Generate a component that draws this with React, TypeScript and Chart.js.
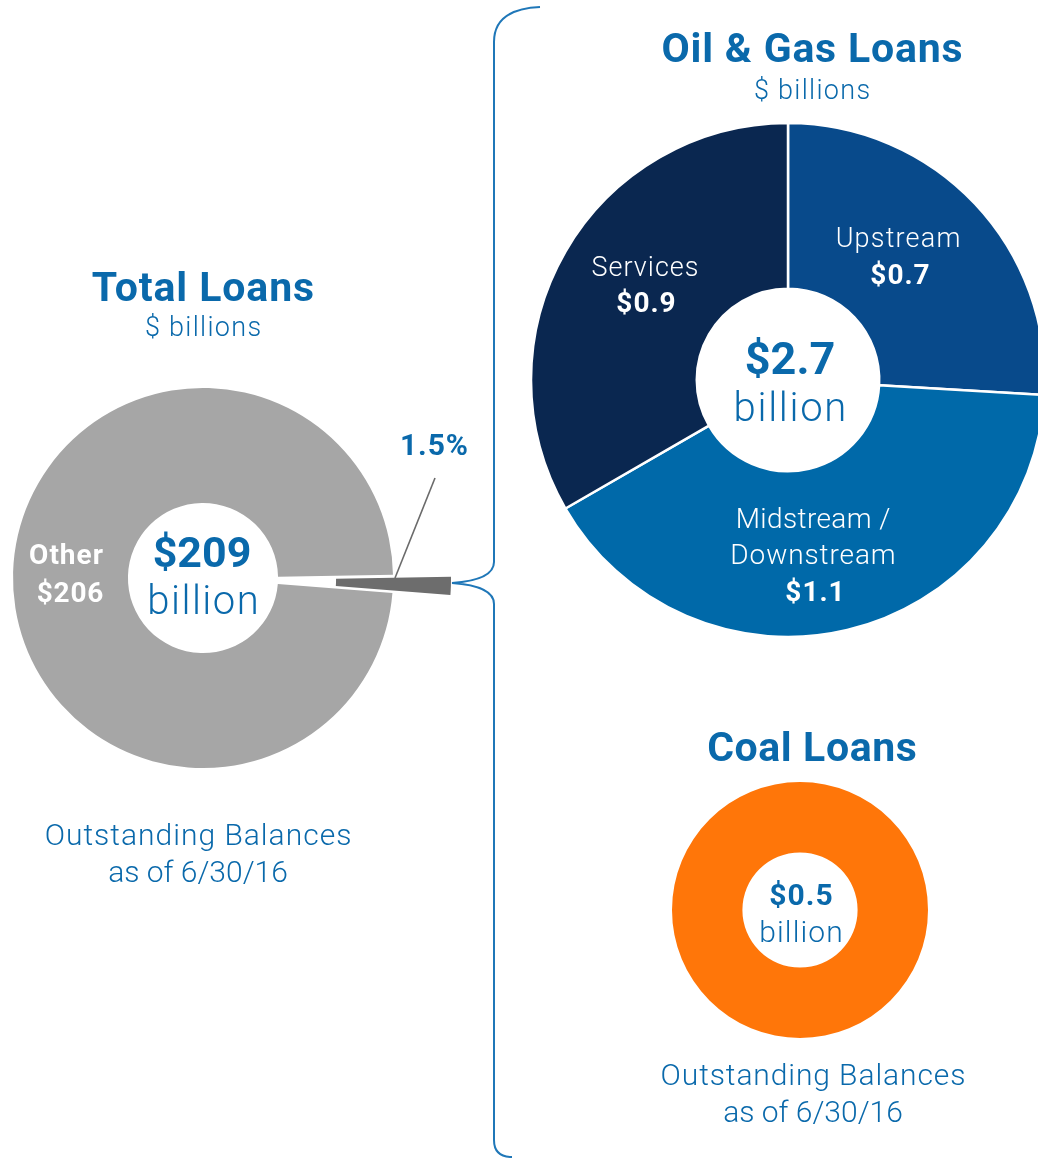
import React, { useEffect, useRef } from "react";
import { Chart, registerables } from "chart.js";

Chart.register(...registerables);

// ---------- Data ----------
const totalLabels = ["Oil & Gas + Coal", "Other"];
const totalValues = [3.2, 206];
const totalColors = ["rgba(0,0,0,0)", "#a6a6a6"];
const sliceColors = ["#6d6d6d", "rgba(0,0,0,0)"];

const oilLabels = ["Upstream", "Midstream / Downstream", "Services"];
const oilValues = [0.7, 1.1, 0.9];
const oilColors = ["#084a8b", "#0069a9", "#0a2750"];

const coalLabels = ["Coal"];
const coalValues = [0.5];
const coalColors = ["#ff7609"];

// ---------- Layout ----------
const BLUE = "#0a69ab";
const FONT = 'Roboto, "DejaVu Sans", sans-serif';

const TOTAL_C = { x: 203, y: 578 };
const TOTAL_R = 190;
const TOTAL_ROT = 89; // degrees (energy slice starts just above 3 o'clock)
const EXPLODE = 58;

const OIL_C = { x: 788, y: 380 };
const OIL_R = 257;

const COAL_C = { x: 800, y: 910 };
const COAL_R = 128;

const sum = (a: number[]) => a.reduce((s, v) => s + v, 0);

function Donut(props: {
  cx: number;
  cy: number;
  size: number;
  labels: string[];
  values: number[];
  colors: string[];
  radius: number;
  cutout: string;
  rotation?: number;
  borderWidth?: number;
}) {
  const ref = useRef<HTMLCanvasElement | null>(null);
  useEffect(() => {
    if (!ref.current) return;
    const chart = new Chart(ref.current, {
      type: "doughnut",
      data: {
        labels: props.labels,
        datasets: [
          {
            data: props.values,
            backgroundColor: props.colors,
            borderColor: "#ffffff",
            borderWidth: props.borderWidth ?? 0,
          },
        ],
      },
      options: {
        responsive: false,
        animation: false,
        events: [],
        radius: props.radius,
        cutout: props.cutout,
        rotation: props.rotation ?? 0,
        layout: { padding: 0 },
        plugins: { legend: { display: false }, tooltip: { enabled: false } },
      } as any,
    });
    return () => chart.destroy();
  }, []);
  return (
    <canvas
      ref={ref}
      width={props.size}
      height={props.size}
      style={{
        position: "absolute",
        left: props.cx - props.size / 2,
        top: props.cy - props.size / 2,
        width: props.size,
        height: props.size,
      }}
    />
  );
}

function T(props: {
  x: number;
  base: number;
  size: number;
  weight?: number;
  color?: string;
  ls?: number;
  children: React.ReactNode;
}) {
  const ls = props.ls ?? 1;
  return (
    <div
      style={{
        position: "absolute",
        left: props.x,
        top: props.base - 0.842 * props.size,
        transform: "translateX(-50%)",
        fontFamily: FONT,
        fontSize: props.size,
        lineHeight: `${props.size}px`,
        fontWeight: props.weight ?? 300,
        color: props.color ?? BLUE,
        whiteSpace: "nowrap",
        letterSpacing: `${ls}px`,
        paddingLeft: ls,
      }}
    >
      {props.children}
    </div>
  );
}

export default function App() {
  const totalSum = sum(totalValues);
  const sweep = (totalValues[0] / totalSum) * 2 * Math.PI;
  const start = ((TOTAL_ROT - 90) * Math.PI) / 180;
  const mid = start + sweep / 2;
  const dx = EXPLODE * Math.cos(mid);
  const dy = EXPLODE * Math.sin(mid);
  const pct = ((totalValues[0] / totalSum) * 100).toFixed(1);
  const oilSum = sum(oilValues).toFixed(1);

  return (
    <div
      style={{
        position: "fixed",
        left: 0,
        top: 0,
        width: 1038,
        height: 1158,
        overflow: "hidden",
        background: "#ffffff",
      }}
    >
      {/* Total loans donut */}
      <Donut
        cx={TOTAL_C.x}
        cy={TOTAL_C.y}
        size={420}
        labels={totalLabels}
        values={totalValues}
        colors={totalColors}
        radius={TOTAL_R}
        cutout="39.5%"
        rotation={TOTAL_ROT}
      />
      {/* exploded energy slice */}
      <Donut
        cx={TOTAL_C.x + dx}
        cy={TOTAL_C.y + dy}
        size={420}
        labels={totalLabels}
        values={totalValues}
        colors={sliceColors}
        radius={TOTAL_R}
        cutout="39.5%"
        rotation={TOTAL_ROT}
      />
      {/* Oil & gas donut */}
      <Donut
        cx={OIL_C.x}
        cy={OIL_C.y}
        size={540}
        labels={oilLabels}
        values={oilValues}
        colors={oilColors}
        radius={OIL_R}
        cutout="35.5%"
        borderWidth={2.5}
      />
      {/* Coal donut */}
      <Donut
        cx={COAL_C.x}
        cy={COAL_C.y}
        size={300}
        labels={coalLabels}
        values={coalValues}
        colors={coalColors}
        radius={COAL_R}
        cutout="45%"
      />

      <svg
        width={1038}
        height={1158}
        style={{ position: "absolute", left: 0, top: 0, pointerEvents: "none" }}
      >
        <path
          d="M 540 7 Q 494 9 494 42 L 494 562 Q 494 580 452 583 Q 494 586 494 604 L 494 1140 Q 494 1157 512 1157"
          fill="none"
          stroke="#1f77b8"
          strokeWidth={2}
        />
        <line x1={395} y1={578} x2={435} y2={478} stroke="#6b6b6b" strokeWidth={1.6} />
      </svg>

      {/* Total loans texts */}
      <T x={203} base={302} size={41} weight={700} ls={0.9}>Total Loans</T>
      <T x={203} base={337} size={27} ls={1.3}>$ billions</T>
      <T x={202} base={567} size={43} weight={700} ls={0}>{`$${Math.round(totalSum)}`}</T>
      <T x={203} base={615} size={40} ls={1.5}>billion</T>
      <T x={66} base={565} size={28} weight={700} color="#ffffff" ls={1}>{totalLabels[1]}</T>
      <T x={70} base={603} size={28} weight={700} color="#ffffff" ls={0.8}>{`$${totalValues[1]}`}</T>
      <T x={434} base={455} size={30} weight={700} ls={0.9}>{`${pct}%`}</T>
      <T x={198} base={845} size={30} ls={1}>Outstanding Balances</T>
      <T x={198} base={882} size={30} ls={0}>as of 6/30/16</T>

      {/* Oil & gas texts */}
      <T x={812} base={63} size={41} weight={700} ls={0.8}>Oil &amp; Gas Loans</T>
      <T x={812} base={100} size={27} ls={1.3}>$ billions</T>
      <T x={898} base={248} size={27} color="#ffffff" ls={1.2}>{oilLabels[0]}</T>
      <T x={900} base={285} size={28} weight={700} color="#ffffff" ls={1}>{`$${oilValues[0]}`}</T>
      <T x={645} base={277} size={27} color="#ffffff" ls={1}>{oilLabels[2]}</T>
      <T x={646} base={313} size={28} weight={700} color="#ffffff" ls={1}>{`$${oilValues[2]}`}</T>
      <T x={813} base={529} size={28} color="#ffffff" ls={0.4}>Midstream /</T>
      <T x={813} base={565} size={28} color="#ffffff" ls={0.9}>Downstream</T>
      <T x={815} base={602} size={28} weight={700} color="#ffffff" ls={1}>{`$${oilValues[1]}`}</T>
      <T x={790} base={374} size={45} weight={700} ls={0}>{`$${oilSum}`}</T>
      <T x={790} base={422} size={40} ls={1.7}>billion</T>

      {/* Coal texts */}
      <T x={812} base={762} size={41} weight={700} ls={0.6}>Coal Loans</T>
      <T x={801} base={905} size={30} weight={700} ls={1.1}>{`$${coalValues[0]}`}</T>
      <T x={801} base={942} size={30} ls={1.1}>billion</T>
      <T x={813} base={1085} size={30} ls={0.9}>Outstanding Balances</T>
      <T x={813} base={1122} size={30} ls={0}>as of 6/30/16</T>
    </div>
  );
}
